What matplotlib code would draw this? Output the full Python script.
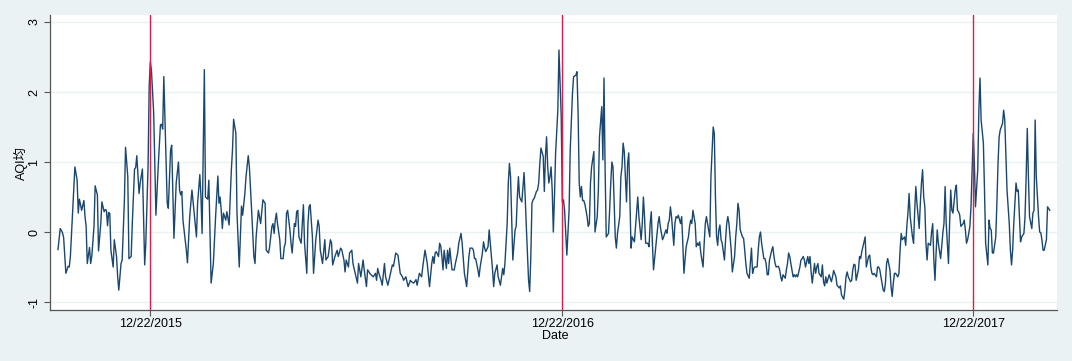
import numpy as np
import pandas as pd
import matplotlib
matplotlib.use("Agg")
import matplotlib.pyplot as plt

# Series start and the step (in days) from one plotted observation to the next
start_date = "2015-10-01"
day_steps = [int(c) for c in (
    "022122113121122111211212121211111121211212121212112122121112222111121212221111312222121121212222111112121111212212121221122221212111112121111211211112111211121221122122112212121121212212212121221112121212112222122212212212112211112111112111221212122212111211211121121121211112111112111121111"
    "211111211"
    "112111111111112121112212121111111121111212112111121111211211112111112111121111211111221121211111211112111221111211111211112121111111121111111211111211112111112111121111121111211112111112111121111121111211112111112111121111121111211111211112121111121111211112111112111121111121111211111111211111112111"
    "1121111211111211111112112111211211111211112111121111111111121111121111211111212"
)]

# Standardised AQI values, in hundredths
aqi_2015 = [-25,5,-1,-8,-59,-49,-50,-35,62,93,74,27,47,31,45,22,8,-45,-22,-45,-35,8,66,53,-27,12,43,29,32,31,9,28,26,-26,-50,-11,-35,-64,-83,-45,-40,46,121,79,-38,-35,12,90,92,109,55,70,90,-47,-16,93,208,243,231,170,24,93,153,154,147,222,160,42,34,117]
aqi_2016 = [124,-9,70,100,60,53,58,17,-26,-44,22,60,27,-7,41,82,50,-2,232,50,47,74,-73,-45,22,80,41,50,31,5,27,17,29,10,50,89,117,161,141,27,-50,37,24,55,79,109,93,31,-35,-45,-7,31,12,46,41,-26,-30,-21,8,12,-2,17,27,12,-11,-38,-38,-21,-16,27,31,3,-16,-30,12,8,29,31,-7,-16,12,39,-16,-59,12,36,39,-7,-59,-11,17,8,-26,-45,-11,-40,-35,-11,-16,-47,-35,-26,-35,-23,-25,-40,-57,-40,-50,-30,-26,-45,-59,-73,-45,-64,-40,-54,-78,-54,-59,-61,-64,-59,-69,-52,-59,-69,-76,-45,-64,-76,-69,-54,-47,-49,-30,-33,-59,-64,-69,-64,-78,-69,-71,-73,-68,-76,-59,-64,-50,-26,-35,-45,-78,-45,-35,-45,-30,-28,-35,-16,-20,-35,-54,-26,-52,-26,-45,-23,-54,-54,-45,-30,-16,-2,-16,-59,-78,-35,-23,-23,-26,-38,-38,-54,-64,-50,-30,-14,-23,-28,-21,3,-16,-54,-78,-59,-47,-64,-76,-64,-52,-61,-45,12,70,98,79,22,-40,3,8,50,79,50,43,65,85,50,8,-69,-85,-35,41,46,48,58,60,70]
aqi_2017 = [98,120,108,58,108,136,93,70,79,93,60,0,50,112,174,260,165,43,46,31,-33,31,117,198,222,224,229,170,70,50,65,45,45,40,22,8,12,70,93,115,0,22,60,136,179,103,220,89,-7,-2,31,70,100,93,-7,-23,-2,22,79,93,127,115,43,98,113,50,-23,-7,-14,8,31,50,22,-11,12,50,22,-16,-16,-21,12,29,-16,-54,-21,12,22,8,-11,-7,3,-2,12,17,36,22,-19,12,22,20,24,12,22,-16,-59,-21,-7,8,17,12,31,12,-21,-16,-19,-14,-30,-50,-16,12,22,12,-7,79,150,141,50,-7,-19,3,10,-11,-16,-40,-11,12,22,12,-7,-26,-57,-35,-7,12,41,31,3,-7,-9,-26,-45,-59,-66,-45,-23,-59,-52,-50,-50,-26,-7,0,-16,-38,-38,-45,-61,-61,-40,-26]
aqi_2018 = [-21,-35,-45,-50,-49,-54,-64,-70,-61,-66,-54,-45,-30,-35,-45,-64,-61,-64,-61,-64,-50,-40,-38,-35,-40,-50,-35,-45,-35,-57,-73,-45,-59,-50,-45,-59,-64,-47,-71,-77,-64,-73,-61,-66,-71,-64,-55,-64,-76,-78,-80,-77,-90,-96,-83,-64,-57,-64,-71,-69,-54,-46,-47,-69,-54,-35,-38,-28,-21,-7,-50,-35,-33,-50,-59,-61,-59,-64,-50,-50,-54,-64,-83,-85,-73,-45,-38,-54,-78,-92,-73,-59,-59,-64,-59,-26,-2,-11,-7,-19,8,27,55,22,-7,-16,31,65,41,5,41,70,89,50,36,-16,-40,-16,-19,0,12,-40,-69,-30,3,-16,-38,-21,-1,12,65,12,-45,12,60,31,27,60,67,31,29,24,8,12,17,3,-16,-11,-2,8,36,141,98,36,89,174,220,160,127,60,-16,-47,17,5,3,-30,-30,-7,41,98,136,146,155,174,160,108,60,12,-26,-47,-26,12,41,70,58,60,22,-14,-7,-2,22,79,148,79,22,5,27,31,160,79,22,0,-1,-11,-26,-26,-11,36,31]

# Vertical reference lines and x tick labels
mark_dates = ['2015-12-22', '2016-12-22', '2017-12-22']
y_ticks = [-1, 0, 1, 2, 3]

aqi_centi = aqi_2015 + aqi_2016 + aqi_2017 + aqi_2018
n = min(len(day_steps), len(aqi_centi))
start = pd.Timestamp(start_date)
dates = start + pd.to_timedelta(np.cumsum(day_steps[:n]), unit="D")
aqi = np.array(aqi_centi[:n]) / 100.0

plt.rcParams['font.family'] = ['Liberation Sans', 'Noto Sans CJK SC', 'DejaVu Sans']
fig = plt.figure(figsize=(10.72, 3.61), dpi=100, facecolor="#EAF2F3")
ax = fig.add_axes([50/1072, 1-310/361, 1007/1072, 295/361])
ax.set_facecolor('white')
ax.plot(dates, aqi, color="#1a476f", lw=1.0, zorder=3)
marks = pd.to_datetime(mark_dates)
for m in marks:
    ax.axvline(m, color='#E31B4A', lw=1.0, zorder=4)
ax.set_xlim(start - pd.Timedelta(days=7.1), start + pd.Timedelta(days=887.4))
ax.set_ylim(-1.114, 3.1)
ax.set_yticks(y_ticks)
ax.set_yticklabels([str(t) for t in y_ticks], rotation=90, va='center')
ax.set_xticks(marks)
ax.set_xticklabels([m.strftime('%m/%d/%Y') for m in marks])
ax.grid(axis='y', color='#EAF2F3', lw=1.0, zorder=0)
ax.grid(axis='x', visible=False)
for s in ['top', 'right']:
    ax.spines[s].set_visible(False)
for s in ['left', 'bottom']:
    ax.spines[s].set_color('#555555')
    ax.spines[s].set_linewidth(0.9)
ax.tick_params(axis='both', colors='#555555', labelcolor='black', length=4, width=0.8, labelsize=9)
ax.tick_params(axis='x', pad=2)
ax.tick_params(axis='y', pad=3)
fig.text(21/1072, 1-163/361, 'AQI均', rotation=90, ha='center', va='center', fontsize=9)
fig.text(555/1072, 1-336/361, 'Date', ha='center', va='center', fontsize=9)
fig.savefig("out.png", dpi=100, facecolor=fig.get_facecolor())
